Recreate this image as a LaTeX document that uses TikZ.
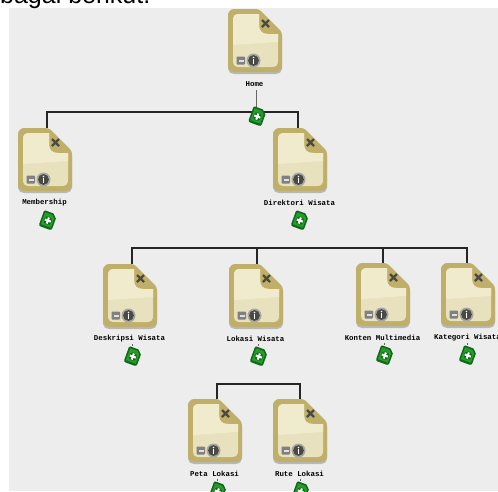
\documentclass[tikz,border=0pt]{standalone}
\usepackage{fontspec}
\setmainfont{Liberation Sans}
\newfontfamily\labelfont{Liberation Mono}
\usetikzlibrary{calc}
\definecolor{bgpanel}{HTML}{EDEDED}
\definecolor{cardrim}{HTML}{BFAF68}
\definecolor{cardlight}{HTML}{F0EBCD}
\definecolor{cardmid}{HTML}{E8E1BE}
\definecolor{markcol}{HTML}{4A4A42}
\definecolor{addgreen}{HTML}{2A9A2A}
\definecolor{adddark}{HTML}{0C6A18}
\tikzset{
  x=1pt,y=-1pt,
  cardhit/.style={inner sep=0pt,minimum width=54pt,minimum height=65pt,anchor=north west},
  addhit/.style={inner sep=0pt,minimum width=16pt,minimum height=16pt},
  caption/.style={font=\labelfont\bfseries\fontsize{7.4}{8}\selectfont,inner sep=0pt,text=black},
  conn/.style={draw=black!85,line width=1.2pt},
  stem/.style={draw=black!60,line width=1pt},
  topnote/.style={font=\fontsize{25}{28}\selectfont,inner sep=0pt,anchor=base west,text=black},
}
% name, x, y of the icon's top left, caption
\newcommand{\cardicon}[4]{%
  \node[cardhit] (#1) at (#2,#3) {};
  \begin{scope}[shift={(#2,#3)}]
    \fill[black!28,rounded corners=3pt] (0,10) .. controls (0,3) and (3,2) .. (9,2) -- (31,2) -- (54,25) -- (54,57)
      .. controls (54,63) and (51,65) .. (45,65) -- (9,65) .. controls (3,65) and (0,63) .. (0,57) -- cycle;
    \fill[cardrim,rounded corners=3pt] (0,9) .. controls (0,3) and (3,0) .. (9,0) -- (31,0) -- (54,23) -- (54,54)
      .. controls (54,60) and (51,63) .. (45,63) -- (9,63) .. controls (3,63) and (0,60) .. (0,54) -- cycle;
    \fill[cardmid] (5,11) .. controls (5,7) and (7,5) .. (11,5) -- (31,5) -- (31,16) .. controls (31,22) and (34,25) .. (40,25)
      -- (50,25) -- (50,52) .. controls (50,56) and (48,58) .. (44,58) -- (11,58) .. controls (7,58) and (5,56) .. (5,52) -- cycle;
    \fill[cardlight] (5,11) .. controls (5,7) and (7,5) .. (11,5) -- (31,5) -- (31,16) .. controls (31,22) and (34,25) .. (40,25)
      -- (50,25) -- (50,33) -- (5,36) -- cycle;
    \draw[markcol,line width=2.2pt] (34,11) -- (41,18) (41,11) -- (34,18);
    \fill[black!50,rounded corners=0.8pt] (8.5,47.5) rectangle (17,55.5);
    \fill[black!12] (10.5,50.7) rectangle (15.5,52.5);
    \fill[black!35] (25.5,51.5) circle (7pt);
    \fill[markcol] (25.5,51.5) circle (5.4pt);
    \fill[white] (25.5,48.5) circle (0.9pt);
    \fill[white] (24.6,50.2) rectangle (26.4,54.8);
  \end{scope}
  \node[caption] (#1-cap) at ($(#2,#3)+(26.5,75)$) {#4};
}
\newcommand{\addicon}[3]{%
  \node[addhit] (#1) at (#2,#3) {};
  \begin{scope}[shift={(#2,#3)},rotate=-20,scale=1.15]
    \fill[adddark] (-5,-7) -- (2.5,-7) -- (6,-3.5) -- (6,5.5) .. controls (6,7) and (5,7.5) .. (4,7.5) -- (-4,7.5) .. controls (-5,7.5) and (-6,7) .. (-6,5.5) -- (-6,-6) -- cycle;
    \fill[addgreen] (-4,-5.5) -- (2,-5.5) -- (4.6,-3) -- (4.6,5.5) -- (-4.6,5.5) -- (-4.6,-5) -- cycle;
    \fill[adddark] (0,0.5) circle (3.6pt);
    \fill[white] (-0.9,-2.3) rectangle (0.9,3.3);
    \fill[white] (-2.8,-0.4) rectangle (2.8,1.4);
  \end{scope}
}
\begin{document}
\begin{tikzpicture}
\useasboundingbox (0,0) rectangle (498,491);
\fill[white] (0,0) rectangle (498,491);
\fill[bgpanel] (9,8) rectangle (498,491);
\node[topnote] (note) at (0,3) {bagai berikut.};

% connector ends
\coordinate (homeStem) at (256,90);
\coordinate (homeBus) at (257,112);
\coordinate (memIn) at (47,128);
\coordinate (dirIn) at (298,128);
\coordinate (midBus) at (257,248);
\coordinate (deskIn) at (132,264);
\coordinate (lokIn) at (257,264);
\coordinate (kontenIn) at (383,264);
\coordinate (katIn) at (467,264);
\coordinate (lowBus) at (258,384);
\coordinate (petaIn) at (217,399);
\coordinate (ruteIn) at (300,399);

\draw[conn] (memIn) |- (homeBus) -| (dirIn);
\draw[conn] (deskIn) |- (midBus) -| (katIn);
\draw[conn] (lokIn) -- (midBus);
\draw[conn] (kontenIn) -- (kontenIn |- midBus);
\draw[conn] (petaIn) |- (lowBus) -| (ruteIn);

% cards
\cardicon{home}{228}{9}{Home}
\cardicon{membership}{18}{128}{Membership}
\cardicon{direktori}{273}{128}{Direktori Wisata}
\cardicon{deskripsi}{103}{264}{Deskripsi Wisata}
\cardicon{lokasi}{229}{264}{Lokasi Wisata}
\cardicon{konten}{356}{263}{Konten Multimedia}
\cardicon{kategori}{441}{263}{Kategori Wisata}
\cardicon{peta}{188}{399}{Peta Lokasi}
\cardicon{rute}{273}{399}{Rute Lokasi}

% stems
\draw[stem] (homeStem) -- (homeStem |- homeBus);
\foreach \n/\xx/\yy in {konten/385/355,kategori/468/355,deskripsi/133/356,lokasi/259/356,peta/218/491,rute/301/491}
  \draw[stem,line width=0.8pt] ($(\xx,\yy)+(-1,-12)$) -- ($(\xx,\yy)+(-1,-10.5)$);

% add buttons
\addicon{homeAdd}{257.5}{116}
\addicon{memAdd}{48}{220}
\addicon{dirAdd}{300}{220}
\addicon{deskAdd}{133}{356}
\addicon{lokAdd}{259}{356}
\addicon{kontenAdd}{385}{355}
\addicon{katAdd}{468}{355}
\addicon{petaAdd}{218}{491}
\addicon{ruteAdd}{301}{491}
\end{tikzpicture}
\end{document}
